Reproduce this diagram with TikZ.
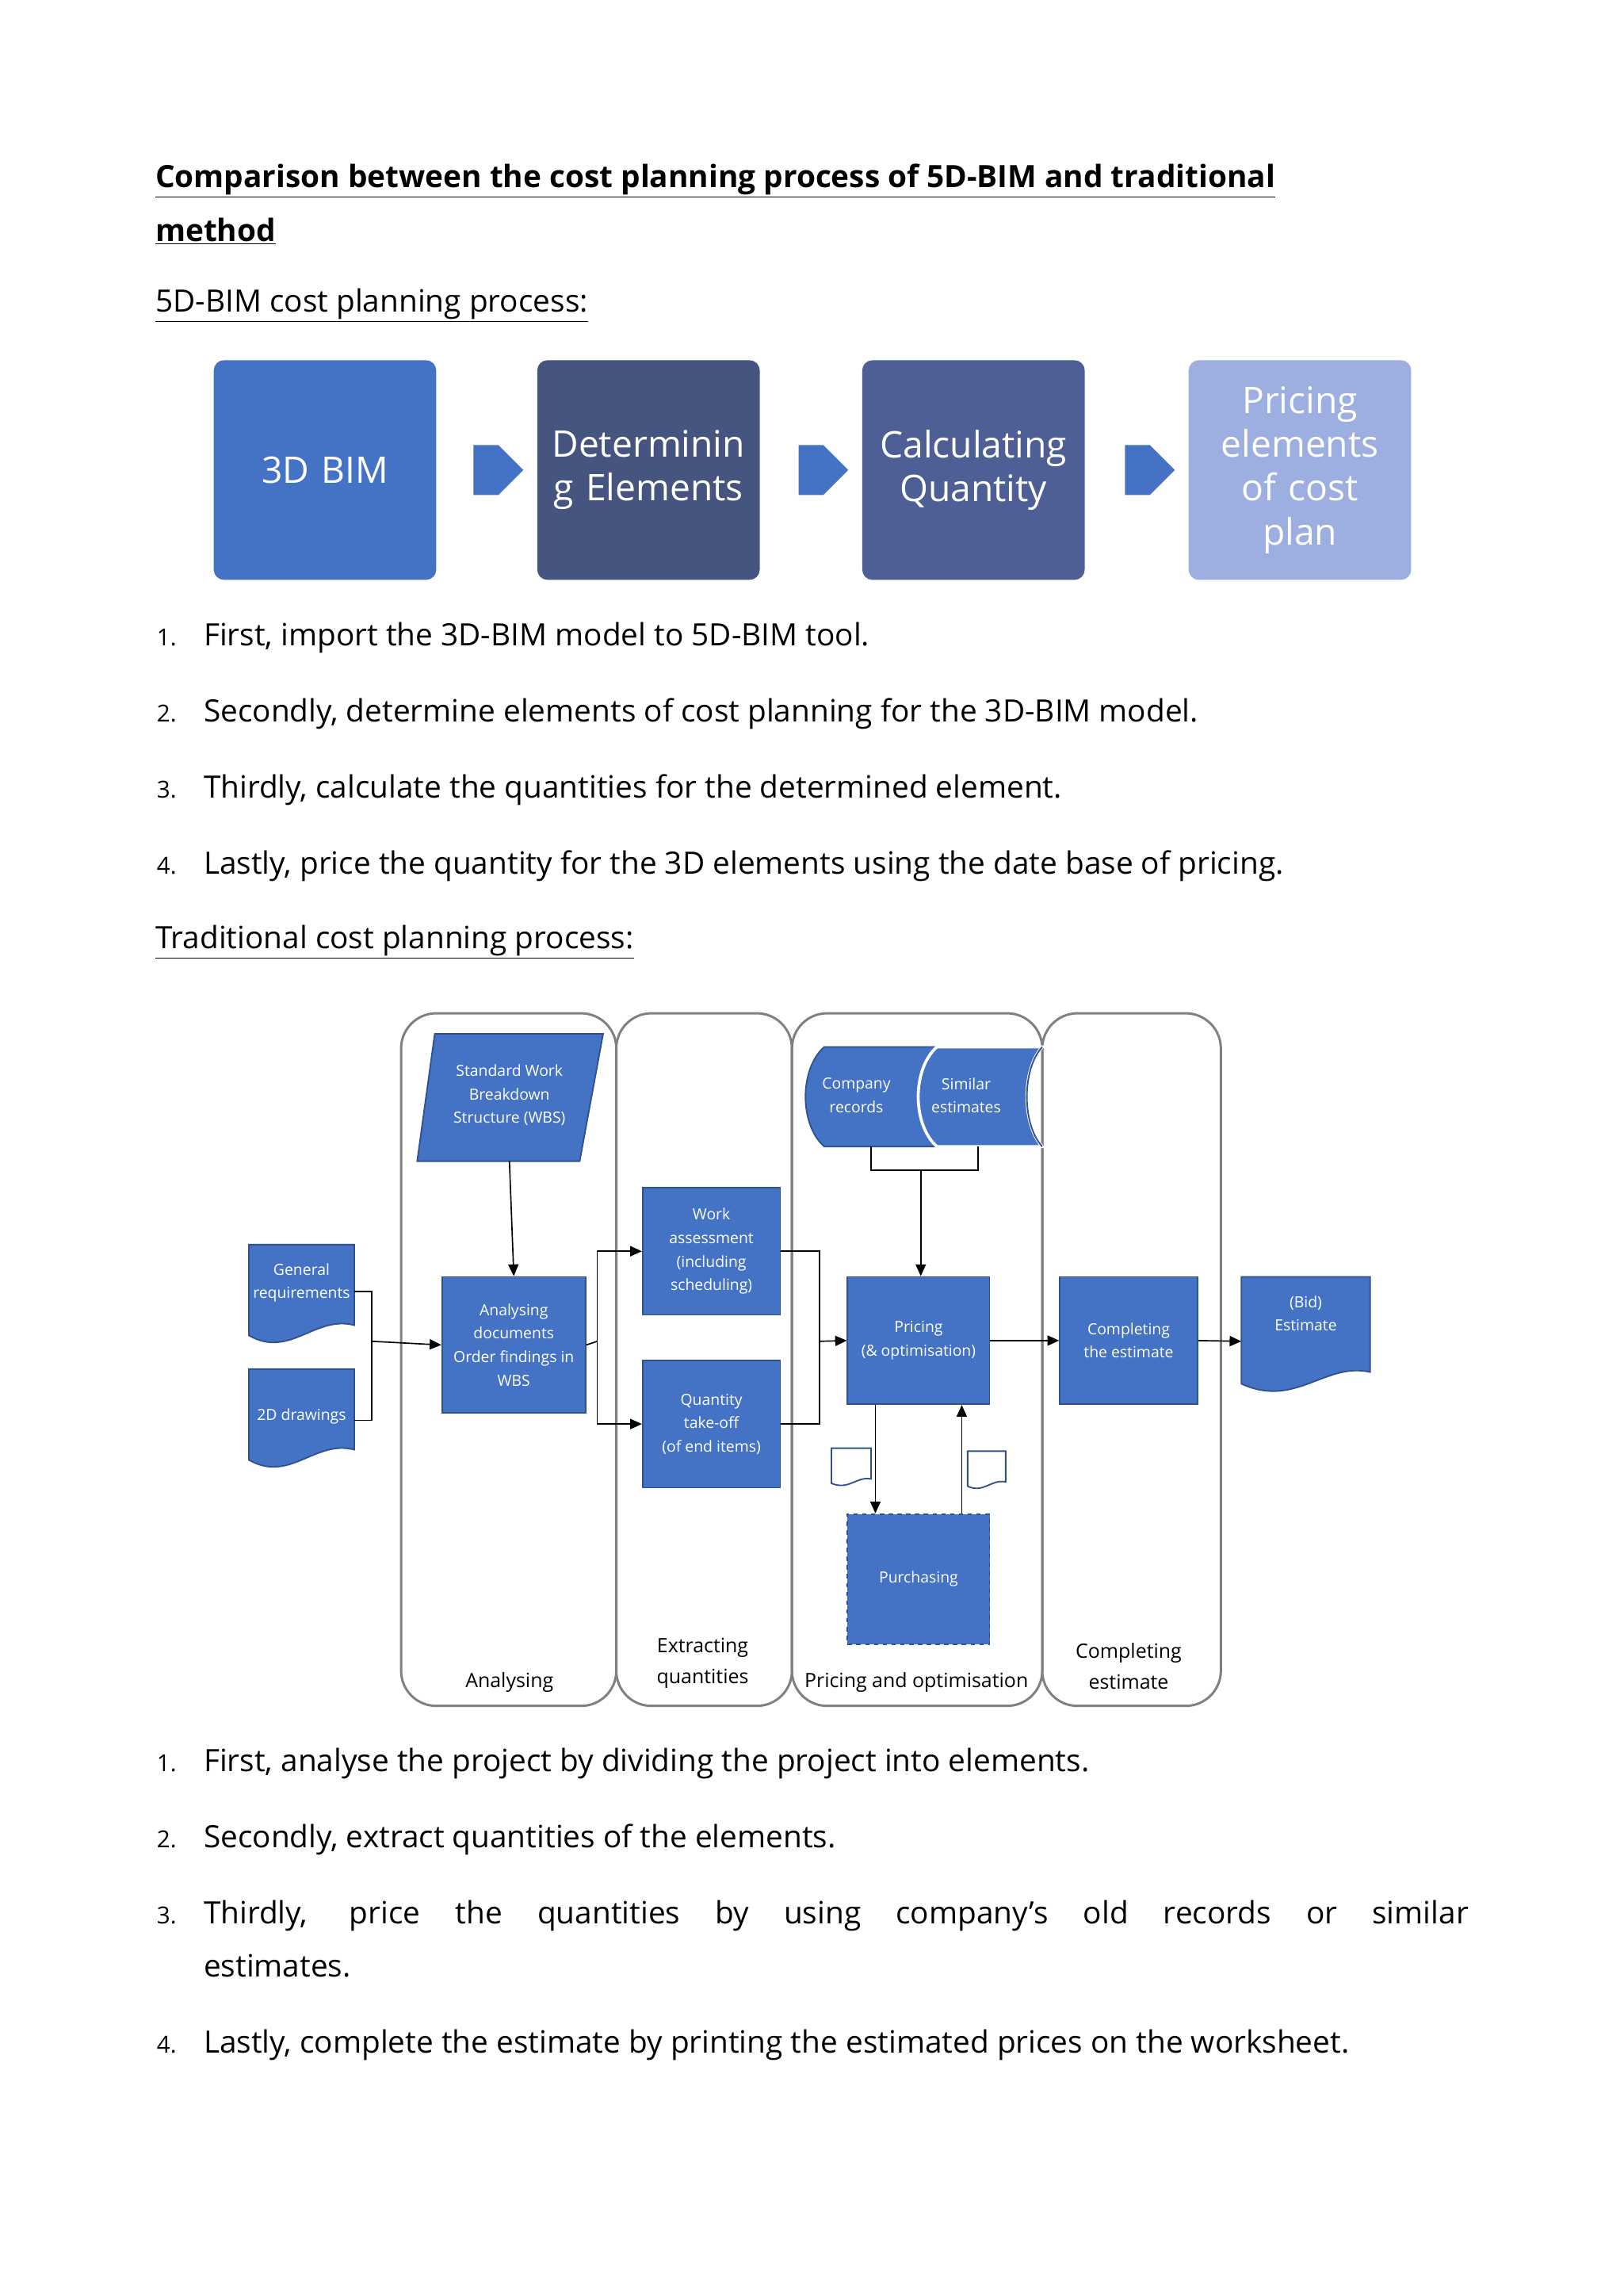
\documentclass[tikz,border=0pt]{standalone}
\usepackage{fontspec}
\setmainfont{Open Sans}
\usetikzlibrary{shapes.geometric,shapes.arrows,arrows.meta}
\definecolor{bb}{HTML}{4472C4}
\definecolor{bd}{HTML}{2F528F}
\definecolor{c2}{HTML}{45557F}
\definecolor{c3}{HTML}{4E5F96}
\definecolor{c4}{HTML}{9DAEE0}
\definecolor{lane}{HTML}{808080}
\tikzset{
 body/.style={anchor=base west,inner sep=0pt,font=\fontsize{21}{25}\selectfont},
 num/.style={anchor=base west,inner sep=0pt,font=\fontsize{16}{20}\selectfont},
 big/.style={rectangle,rounded corners=7pt,minimum width=152pt,minimum height=150pt,text=white,align=center,font=\fontsize{25}{30}\selectfont,text width=150pt,inner sep=1pt},
 barrow/.style={single arrow,fill=bb,draw=none,minimum width=34pt,single arrow head extend=0pt,minimum height=34pt,inner sep=3pt},
 lanebox/.style={draw=lane,line width=1.6pt,rounded corners=24pt},
 box/.style={rectangle,fill=bb,draw=bd,line width=1pt,text=white,align=center,font=\fontsize{10.5}{16}\selectfont,inner sep=1pt},
 lbl/.style={align=center,font=\fontsize{13.5}{21}\selectfont},
 ntxt/.style={text=white,align=center,font=\fontsize{10.5}{16}\selectfont},
 con/.style={line width=0.9pt},
 arr/.style={line width=0.9pt,-{Triangle[length=8pt,width=7pt]}},
}
\begin{document}
\begin{tikzpicture}[x=1pt,y=-1pt]
\useasboundingbox (0,0) rectangle (1109,1568);
\fill[white] (0,0) rectangle (1109,1568);
% headings
\node[body,font=\bfseries\fontsize{21}{25}\selectfont] (t1) at (106,128) {\underline{Comparison between the cost planning process of 5D-BIM and traditional}};
\node[body,font=\bfseries\fontsize{21}{25}\selectfont] (t2) at (106,165) {\underline{method}};
\node[body] (h1) at (106,213) {\underline{5D-BIM cost planning process:}};
% top flow
\node[big,fill=bb] (b1) at (222,321) {3D BIM};
\node[big,fill=c2] (b2) at (443,321) {Determinin\\g Elements};
\node[big,fill=c3] (b3) at (665,321) {Calculating\\Quantity};
\node[big,fill=c4] (b4) at (888,321) {Pricing\\elements\\of cost\\plan};
\node[barrow] (a1) at (332,321) {};
\node[barrow] (a2) at (554,321) {};
\node[barrow] (a3) at (777,321) {};
% list 1
\foreach \y/\n/\t in {441/1./{First, import the 3D-BIM model to 5D-BIM tool.},493/2./{Secondly, determine elements of cost planning for the 3D-BIM model.},545/3./{Thirdly, calculate the quantities for the determined element.},597/4./{Lastly, price the quantity for the 3D elements using the date base of pricing.}}{
 \node[num] at (107,\y) {\n};
 \node[body] at (139,\y) {\t};
}
\node[body] (h2) at (106,648) {\underline{Traditional cost planning process:}};
% lanes
\draw[lanebox] (274,692) rectangle (421,1165);
\draw[lanebox] (421,692) rectangle (541,1165);
\draw[lanebox] (541,692) rectangle (712,1165);
\draw[lanebox] (712,692) rectangle (834,1165);
\node[lbl] (l1) at (348,1149) {Analysing};
\node[lbl] (l2) at (480,1136) {Extracting\\quantities};
\node[lbl] (l3) at (626,1149) {Pricing and optimisation};
\node[lbl] (l4) at (771,1138) {Completing\\estimate};
% WBS
\draw[fill=bb,draw=bd,line width=1pt] (297,706) -- (412,706) -- (396,793) -- (285,793) -- cycle;
\node[ntxt] (wbs) at (348,748) {Standard Work\\Breakdown\\Structure (WBS)};
\coordinate (wbsb) at (348,793);
% docs
\draw[fill=bb,draw=bd,line width=1pt] (170,850) -- (242,850) -- (242,905) .. controls (215,898) and (198,928) .. (170,912) -- cycle;
\node[ntxt] (gen) at (206,876) {General\\requirements};
\draw[fill=bb,draw=bd,line width=1pt] (170,935) -- (242,935) -- (242,990) .. controls (215,983) and (198,1013) .. (170,997) -- cycle;
\node[ntxt] (dr) at (206,967) {2D drawings};
\draw[fill=bb,draw=bd,line width=1pt] (848,872) -- (936,872) -- (936,937) .. controls (905,930) and (885,962) .. (848,945) -- cycle;
\node[ntxt] (est) at (892,897) {(Bid)\\Estimate};
% boxes
\node[box,minimum width=98pt,minimum height=93pt] (an) at (351,918.5) {Analysing\\documents\\Order findings in\\WBS};
\node[box,minimum width=94pt,minimum height=87pt] (wa) at (486,854.5) {Work\\assessment\\(including\\scheduling)};
\node[box,minimum width=94pt,minimum height=87pt] (qt) at (486,972.5) {Quantity\\take-off\\(of end items)};
\node[box,minimum width=97pt,minimum height=87pt] (pr) at (627.5,915.5) {Pricing\\(\& optimisation)};
\node[box,minimum width=94pt,minimum height=87pt] (ce) at (771,915.5) {Completing\\the estimate};
\node[box,dashed,minimum width=97pt,minimum height=89pt] (pu) at (627.5,1078.5) {Purchasing};
% stored data
\draw[fill=bb,draw=bd,line width=1pt] (563,715) -- (640,715) .. controls (626,730) and (626,768) .. (640,783) -- (563,783) .. controls (546,768) and (546,730) .. (563,715) -- cycle;
\node[ntxt] (co) at (585,748) {Company\\records};
\draw[fill=bb,draw=white,line width=2pt] (640,715) -- (712,715) .. controls (698,730) and (698,768) .. (712,783) -- (640,783) .. controls (623,768) and (623,730) .. (640,715) -- cycle;
\draw[bd,line width=1pt] (712,715) .. controls (698,730) and (698,768) .. (712,783);
\node[ntxt] (si) at (660,748) {Similar\\estimates};
% small doc icons
\draw[bd,fill=white,line width=1pt] (568,989) -- (595,989) -- (595,1010) .. controls (585,1008) and (580,1018) .. (568,1013) -- cycle;
\draw[bd,fill=white,line width=1pt] (661,991) -- (687,991) -- (687,1012) .. controls (677,1010) and (672,1020) .. (661,1015) -- cycle;
% connectors
\coordinate (j1) at (254,916);
\draw[con] (242,882) -| (j1);
\draw[con] (242,970) -| (j1);
\draw[arr] (j1) -- (an.west);
\draw[arr] (wbsb) -- (an.north);
\coordinate (j2) at (408,916);
\draw[con] (an.east) -- (j2);
\draw[arr] (j2) |- (wa.west);
\draw[arr] (j2) |- (qt.west);
\coordinate (j3) at (560,916);
\draw[con] (wa.east) -| (j3);
\draw[con] (qt.east) -| (j3);
\draw[arr] (j3) -- (pr.west);
\coordinate (j4) at (629,799);
\draw[con] (595,783) -- (595,799) -- (668,799) -- (668,783);
\draw[arr] (j4) -- (pr.north -| j4);
\draw[arr] (pr.south -| 598,0) -- (pu.north -| 598,0);
\draw[arr] (pu.north -| 657,0) -- (pr.south -| 657,0);
\draw[arr] (pr.east) -- (ce.west);
\draw[arr] (ce.east) -- (848,916);
% list 2
\node[num] at (107,1210) {1.};
\node[body] at (139,1210) {First, analyse the project by dividing the project into elements.};
\node[num] at (107,1262) {2.};
\node[body] at (139,1262) {Secondly, extract quantities of the elements.};
\node[num] at (107,1314) {3.};
\node[body] at (139,1314) {\makebox[864pt][s]{Thirdly, price the quantities by using company's old records or similar}};
\node[body] at (139,1350) {estimates.};
\node[num] at (107,1402) {4.};
\node[body] at (139,1402) {Lastly, complete the estimate by printing the estimated prices on the worksheet.};
\end{tikzpicture}
\end{document}
